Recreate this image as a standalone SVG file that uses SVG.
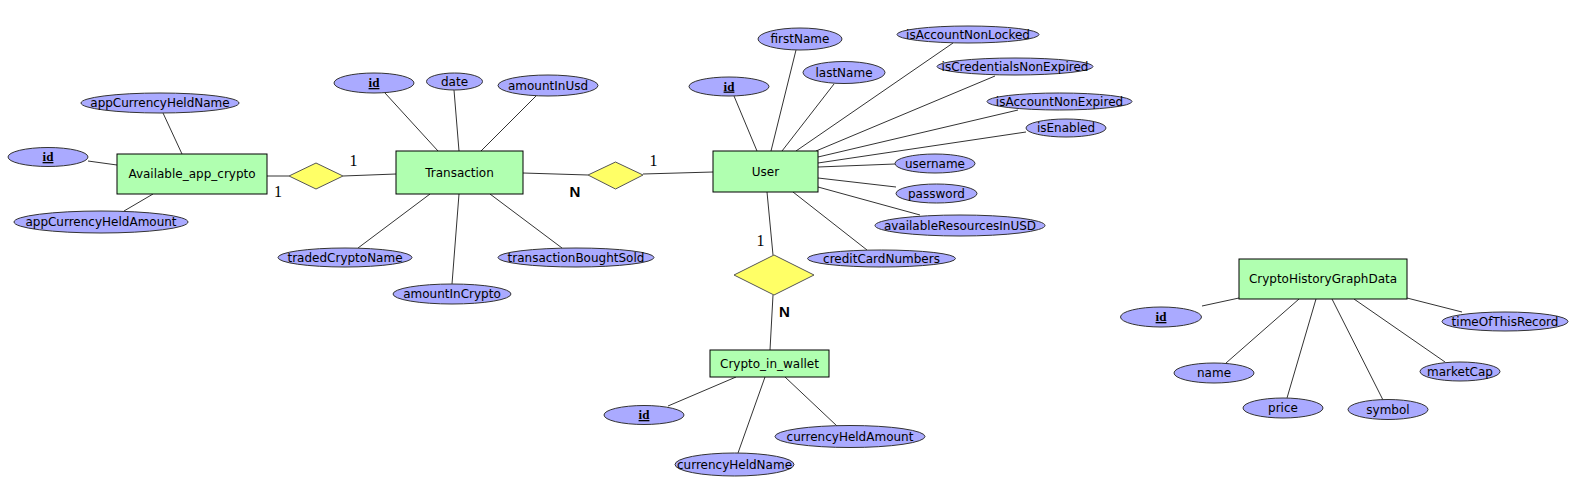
<svg xmlns="http://www.w3.org/2000/svg" width="1576" height="482" viewBox="0 0 1576 482">
<style>
.ent{fill:#b0ffb0;stroke:#000;stroke-width:1}
.att{fill:#aaaaff;stroke:#333;stroke-width:1}
.rel{fill:#ffff66;stroke:#555;stroke-width:1}
.t{font-family:"DejaVu Sans",Verdana,sans-serif;font-size:12px;fill:#000;text-anchor:middle}
.k{font-family:"Liberation Serif","Times New Roman",serif;font-size:13px;font-weight:bold;fill:#000;text-anchor:middle;text-decoration:underline}
.one{font-family:"Liberation Serif","Times New Roman",serif;font-size:16px;fill:#000;text-anchor:middle}
.n{font-family:"Liberation Sans",Arial,sans-serif;font-size:15px;font-weight:bold;fill:#000;text-anchor:middle}
#connectors line{stroke:#333;stroke-width:1}
</style>
<rect width="1576" height="482" fill="#fff"/>
<g id="connectors">
<line x1="163" y1="113" x2="182" y2="154"/>
<line x1="88" y1="161" x2="117" y2="165"/>
<line x1="124" y1="211" x2="153" y2="194"/>
<line x1="267" y1="176" x2="289" y2="176"/>
<line x1="343" y1="176" x2="396" y2="174"/>
<line x1="385" y1="93" x2="438" y2="151"/>
<line x1="454" y1="90" x2="459" y2="151"/>
<line x1="536" y1="96" x2="481" y2="151"/>
<line x1="358" y1="248" x2="430" y2="194"/>
<line x1="452" y1="284" x2="459" y2="194"/>
<line x1="562" y1="248" x2="490" y2="194"/>
<line x1="523" y1="173" x2="588" y2="175"/>
<line x1="643" y1="174" x2="713" y2="172"/>
<line x1="734" y1="96" x2="757" y2="151"/>
<line x1="796" y1="50" x2="771" y2="151"/>
<line x1="834" y1="84" x2="782" y2="151"/>
<line x1="953" y1="43" x2="796" y2="151"/>
<line x1="995" y1="76" x2="816" y2="151"/>
<line x1="1018" y1="110" x2="818" y2="157"/>
<line x1="1026" y1="132" x2="818" y2="163"/>
<line x1="895" y1="164" x2="818" y2="167"/>
<line x1="896" y1="187" x2="818" y2="178"/>
<line x1="920" y1="215" x2="818" y2="187"/>
<line x1="867" y1="250" x2="793" y2="192"/>
<line x1="767" y1="192" x2="773" y2="255"/>
<line x1="773" y1="295" x2="770" y2="350"/>
<line x1="668" y1="406" x2="736" y2="377"/>
<line x1="738" y1="453" x2="765" y2="377"/>
<line x1="837" y1="426" x2="785" y2="377"/>
<line x1="1202" y1="306" x2="1239" y2="298"/>
<line x1="1226" y1="363" x2="1299" y2="299"/>
<line x1="1287" y1="398" x2="1316" y2="299"/>
<line x1="1383" y1="400" x2="1332" y2="299"/>
<line x1="1445" y1="362" x2="1354" y2="299"/>
<line x1="1462" y1="312" x2="1407" y2="298"/>
</g>
<g id="rel-aac-tx"><polygon class="rel" points="289,176 316,163 343,176 316,189"/></g>
<g id="rel-tx-user"><polygon class="rel" points="588,175 615.5,162 643,175 615.5,189"/></g>
<g id="rel-user-wallet"><polygon class="rel" points="734,275 774,255 814,275 774,295"/></g>
<g id="card-labels">
<text class="one" x="353.5" y="166">1</text>
<text class="one" x="278" y="197">1</text>
<text class="n" x="575" y="197">N</text>
<text class="one" x="653.5" y="166">1</text>
<text class="one" x="760.5" y="246">1</text>
<text class="n" x="784.5" y="317">N</text>
</g>
<g id="Available_app_crypto"><rect class="ent" x="117" y="154" width="150" height="40"/><text class="t" x="192" y="178">Available_app_crypto</text></g>
<g id="aac-name"><ellipse class="att" cx="160" cy="103" rx="79" ry="10"/><text class="t" x="160" y="107">appCurrencyHeldName</text></g>
<g id="aac-id"><ellipse class="att" cx="48" cy="157" rx="40" ry="9.5"/><text class="k" x="48" y="161">id</text></g>
<g id="aac-amount"><ellipse class="att" cx="101" cy="222" rx="87" ry="11"/><text class="t" x="101" y="226">appCurrencyHeldAmount</text></g>
<g id="Transaction"><rect class="ent" x="396" y="151" width="127" height="43"/><text class="t" x="459.5" y="177">Transaction</text></g>
<g id="tx-id"><ellipse class="att" cx="374" cy="83" rx="40" ry="10"/><text class="k" x="374" y="87">id</text></g>
<g id="tx-date"><ellipse class="att" cx="454.5" cy="81.5" rx="28" ry="8.5"/><text class="t" x="454.5" y="85.5">date</text></g>
<g id="tx-usd"><ellipse class="att" cx="548" cy="85.5" rx="50" ry="10.5"/><text class="t" x="548" y="89.5">amountInUsd</text></g>
<g id="tx-traded"><ellipse class="att" cx="345" cy="257.5" rx="67" ry="9.5"/><text class="t" x="345" y="261.5">tradedCryptoName</text></g>
<g id="tx-crypto"><ellipse class="att" cx="452" cy="294" rx="59" ry="10"/><text class="t" x="452" y="298">amountInCrypto</text></g>
<g id="tx-bs"><ellipse class="att" cx="576" cy="257.5" rx="78" ry="9.5"/><text class="t" x="576" y="261.5">transactionBoughtSold</text></g>
<g id="User"><rect class="ent" x="713" y="151" width="105" height="41"/><text class="t" x="765.5" y="176">User</text></g>
<g id="u-id"><ellipse class="att" cx="729" cy="86.5" rx="40" ry="9.5"/><text class="k" x="729" y="90.5">id</text></g>
<g id="u-first"><ellipse class="att" cx="800" cy="39" rx="42" ry="11"/><text class="t" x="800" y="43">firstName</text></g>
<g id="u-last"><ellipse class="att" cx="844" cy="72.5" rx="41" ry="11"/><text class="t" x="844" y="76.5">lastName</text></g>
<g id="u-locked"><ellipse class="att" cx="968" cy="34.5" rx="71" ry="8.5"/><text class="t" x="968" y="38.5">isAccountNonLocked</text></g>
<g id="u-cred"><ellipse class="att" cx="1015" cy="66.5" rx="78" ry="8.5"/><text class="t" x="1015" y="70.5">isCredentialsNonExpired</text></g>
<g id="u-expired"><ellipse class="att" cx="1059.5" cy="101.5" rx="72.5" ry="8.5"/><text class="t" x="1059.5" y="105.5">isAccountNonExpired</text></g>
<g id="u-enabled"><ellipse class="att" cx="1066" cy="128" rx="40" ry="9"/><text class="t" x="1066" y="132">isEnabled</text></g>
<g id="u-username"><ellipse class="att" cx="935" cy="163.5" rx="40" ry="9.5"/><text class="t" x="935" y="167.5">username</text></g>
<g id="u-password"><ellipse class="att" cx="936.5" cy="193.5" rx="40.5" ry="9.5"/><text class="t" x="936.5" y="197.5">password</text></g>
<g id="u-resources"><ellipse class="att" cx="960" cy="225.5" rx="85" ry="10.5"/><text class="t" x="960" y="229.5">availableResourcesInUSD</text></g>
<g id="u-cards"><ellipse class="att" cx="881.5" cy="258.5" rx="74" ry="8.5"/><text class="t" x="881.5" y="262.5">creditCardNumbers</text></g>
<g id="Crypto_in_wallet"><rect class="ent" x="710" y="350" width="119" height="27"/><text class="t" x="769.5" y="368">Crypto_in_wallet</text></g>
<g id="w-id"><ellipse class="att" cx="644" cy="415" rx="40" ry="9.5"/><text class="k" x="644" y="419">id</text></g>
<g id="w-amount"><ellipse class="att" cx="850" cy="436.5" rx="75" ry="11"/><text class="t" x="850" y="440.5">currencyHeldAmount</text></g>
<g id="w-name"><ellipse class="att" cx="734.5" cy="464.5" rx="59.5" ry="11.5"/><text class="t" x="734.5" y="468.5">currencyHeldName</text></g>
<g id="CryptoHistoryGraphData"><rect class="ent" x="1239" y="259" width="168" height="40"/><text class="t" x="1323" y="283">CryptoHistoryGraphData</text></g>
<g id="h-id"><ellipse class="att" cx="1161" cy="317" rx="40.5" ry="10"/><text class="k" x="1161" y="321">id</text></g>
<g id="h-name"><ellipse class="att" cx="1214" cy="373" rx="40" ry="10"/><text class="t" x="1214" y="377">name</text></g>
<g id="h-price"><ellipse class="att" cx="1283" cy="408" rx="40" ry="10"/><text class="t" x="1283" y="412">price</text></g>
<g id="h-symbol"><ellipse class="att" cx="1388" cy="409.5" rx="40" ry="10"/><text class="t" x="1388" y="413.5">symbol</text></g>
<g id="h-market"><ellipse class="att" cx="1460" cy="371.5" rx="40" ry="9.5"/><text class="t" x="1460" y="375.5">marketCap</text></g>
<g id="h-time"><ellipse class="att" cx="1505" cy="321.5" rx="63" ry="9.5"/><text class="t" x="1505" y="325.5">timeOfThisRecord</text></g>
</svg>
